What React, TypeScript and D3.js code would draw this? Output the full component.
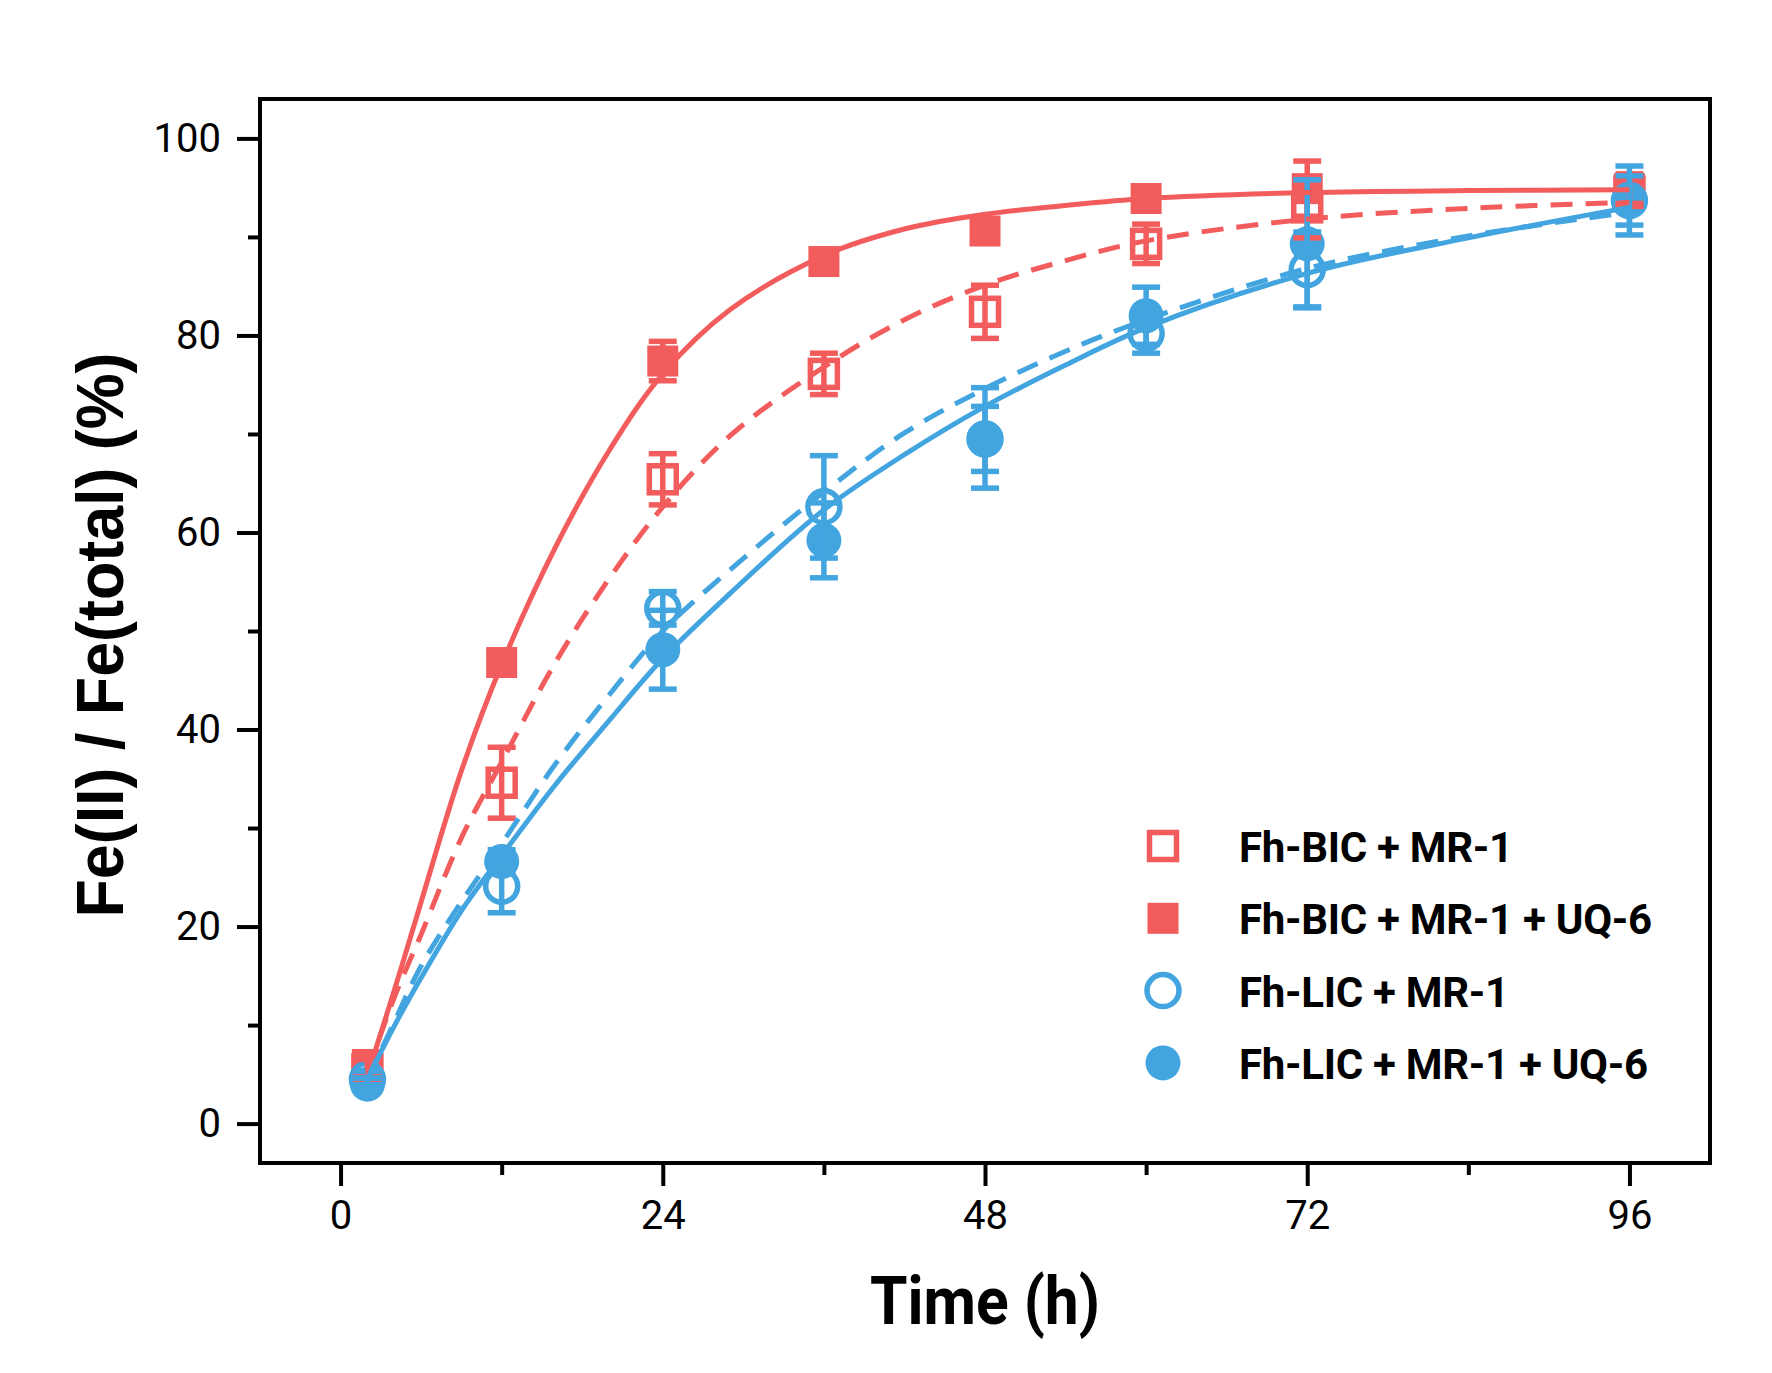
import React, { useEffect, useRef } from 'react';
import * as d3 from 'd3';

// measured points (mean ± sd)
const times = [2, 12, 24, 36, 48, 60, 72, 96];

const bicMr1 = [5.5, 34.6, 65.4, 76.1, 82.4, 89.3, 93.0, 94.6];
const bicMr1Err = [1.0, 3.6, 2.6, 2.1, 2.7, 2.0, 3.1, 1.5];

const bicMr1Uq6 = [6.0, 46.8, 77.4, 87.5, 90.6, 93.9, 94.9, 94.9];
const bicMr1Uq6Err = [0.8, 1.0, 2.0, 1.0, 1.2, 1.0, 2.8, 1.5];

const licMr1 = [4.5, 24.1, 52.3, 62.6, 69.5, 80.2, 86.7, 93.7];
const licMr1Err = [0.8, 2.7, 1.7, 5.2, 3.3, 2.0, 3.8, 3.5];

const licMr1Uq6 = [4.0, 26.6, 48.1, 59.2, 69.6, 82.0, 89.3, 93.7];
const licMr1Uq6Err = [0.6, 1.2, 4.0, 3.8, 5.1, 2.9, 6.5, 2.5];

// fitted curves
const fitTimes = [2, 4, 6, 9, 12, 16, 20, 24, 29, 36, 42, 48, 54, 60, 72, 84, 96];
const bicMr1Fit = [5.2, 12.8, 19.2, 29.0, 36.7, 46.8, 55.3, 62.6, 69.8, 76.8, 81.6, 85.1, 87.6, 89.6, 91.8, 92.9, 93.5];
const bicMr1Uq6Fit = [4.9, 13.5, 22.5, 35.8, 46.6, 58.5, 68.3, 76.1, 82.6, 88.1, 90.8, 92.3, 93.2, 93.9, 94.5, 94.7, 94.8];
const licMr1Fit = [4.5, 10.3, 16.0, 22.5, 28.4, 36.5, 43.5, 50.0, 56.2, 64.1, 70.1, 74.6, 78.4, 81.6, 86.8, 90.1, 92.5];
const licMr1Uq6Fit = [4.5, 9.9, 14.8, 21.6, 27.2, 34.4, 40.9, 47.2, 53.8, 62.3, 67.9, 72.8, 77.0, 80.8, 86.3, 89.9, 93.0];

const seriesNames = ['Fh-BIC + MR-1', 'Fh-BIC + MR-1 + UQ-6', 'Fh-LIC + MR-1', 'Fh-LIC + MR-1 + UQ-6'];

const xTicks = [0, 24, 48, 72, 96];
const xMinorTicks = [12, 36, 60, 84];
const yTicks = [0, 20, 40, 60, 80, 100];
const yMinorTicks = [10, 30, 50, 70, 90];

const RED = '#F25C5C';
const BLUE = '#43A5E0';

type Marker = 'squareOpen' | 'square' | 'circleOpen' | 'circle';

interface Series {
    name: string,
    values: number[],
    errors: number[],
    fit: number[],
    color: string,
    marker: Marker,
    dashed: boolean
}

const series: Series[] = [
    { name: seriesNames[0], values: bicMr1, errors: bicMr1Err, fit: bicMr1Fit, color: RED, marker: 'squareOpen', dashed: true },
    { name: seriesNames[1], values: bicMr1Uq6, errors: bicMr1Uq6Err, fit: bicMr1Uq6Fit, color: RED, marker: 'square', dashed: false },
    { name: seriesNames[2], values: licMr1, errors: licMr1Err, fit: licMr1Fit, color: BLUE, marker: 'circleOpen', dashed: true },
    { name: seriesNames[3], values: licMr1Uq6, errors: licMr1Uq6Err, fit: licMr1Uq6Fit, color: BLUE, marker: 'circle', dashed: false },
];

const width = 1772;
const height = 1373;
const left = 260;
const right = 1710;
const top = 99;
const bottom = 1163;

const drawMarker = (
    g: d3.Selection<SVGGElement, unknown, null, undefined>,
    marker: Marker, cx: number, cy: number, color: string
) => {
    if (marker === 'squareOpen') {
        g.append('rect').attr('x', cx - 13.5).attr('y', cy - 13.5).attr('width', 27).attr('height', 27)
            .attr('fill', 'white').attr('stroke', color).attr('stroke-width', 5.5);
    } else if (marker === 'square') {
        g.append('rect').attr('x', cx - 15.5).attr('y', cy - 15.5).attr('width', 31).attr('height', 31)
            .attr('fill', color);
    } else if (marker === 'circleOpen') {
        g.append('circle').attr('cx', cx).attr('cy', cy).attr('r', 16)
            .attr('fill', 'white').attr('stroke', color).attr('stroke-width', 5.5);
    } else {
        g.append('circle').attr('cx', cx).attr('cy', cy).attr('r', 17.5).attr('fill', color);
    }
};

const App: React.FC = () => {
    const svgRef = useRef<SVGSVGElement | null>(null);

    useEffect(() => {
        const svg = d3.select(svgRef.current);
        svg.selectAll('*').remove();

        const x = d3.scaleLinear().domain([-6, 102]).range([left, right]);
        const y = d3.scaleLinear().domain([-4, 104]).range([bottom, top]);

        // markers
        const markers = svg.append('g');
        series.forEach(s => {
            s.values.forEach((v, i) => drawMarker(markers, s.marker, x(times[i]), y(v), s.color));
        });

        // error bars
        const bars = svg.append('g').attr('stroke-width', 5.5).attr('fill', 'none');
        series.forEach(s => {
            s.values.forEach((v, i) => {
                const cx = x(times[i]);
                const y0 = y(v - s.errors[i]);
                const y1 = y(v + s.errors[i]);
                bars.append('line').attr('x1', cx).attr('x2', cx).attr('y1', y0).attr('y2', y1).attr('stroke', s.color);
                bars.append('line').attr('x1', cx - 14).attr('x2', cx + 14).attr('y1', y0).attr('y2', y0).attr('stroke', s.color);
                bars.append('line').attr('x1', cx - 14).attr('x2', cx + 14).attr('y1', y1).attr('y2', y1).attr('stroke', s.color);
            });
        });

        // fitted curves
        const line = d3.line<number>()
            .x((_, i) => x(fitTimes[i]))
            .y(d => y(d))
            .curve(d3.curveCatmullRom.alpha(0.5));

        series.forEach(s => {
            svg.append('path')
                .datum(s.fit)
                .attr('fill', 'none')
                .attr('stroke', s.color)
                .attr('stroke-width', 5)
                .attr('stroke-dasharray', s.dashed ? '22 13' : null)
                .attr('d', line);
        });

        // frame
        svg.append('rect')
            .attr('x', left).attr('y', top)
            .attr('width', right - left).attr('height', bottom - top)
            .attr('fill', 'none').attr('stroke', 'black').attr('stroke-width', 4);

        const styleAxis = (g: d3.Selection<SVGGElement, unknown, null, undefined>) => {
            g.select('.domain').remove();
            g.selectAll('.tick line').attr('stroke', 'black').attr('stroke-width', 4);
            g.selectAll('.tick text')
                .attr('fill', 'black')
                .style('font-family', 'Roboto')
                .style('font-size', '40px');
        };

        svg.append('g')
            .attr('transform', `translate(0, ${bottom})`)
            .call(d3.axisBottom(x).tickValues(xTicks).tickSize(23).tickPadding(15).tickFormat(d3.format('d')))
            .call(styleAxis);

        svg.append('g')
            .attr('transform', `translate(0, ${bottom})`)
            .call(d3.axisBottom(x).tickValues(xMinorTicks).tickSize(12).tickFormat(() => ''))
            .call(styleAxis);

        svg.append('g')
            .attr('transform', `translate(${left}, 0)`)
            .call(d3.axisLeft(y).tickValues(yTicks).tickSize(23).tickPadding(16).tickFormat(d3.format('d')))
            .call(styleAxis);

        svg.append('g')
            .attr('transform', `translate(${left}, 0)`)
            .call(d3.axisLeft(y).tickValues(yMinorTicks).tickSize(12).tickFormat(() => ''))
            .call(styleAxis);

        // axis titles
        svg.append('text')
            .attr('x', (left + right) / 2)
            .attr('y', 1324)
            .attr('text-anchor', 'middle')
            .attr('textLength', 230)
            .attr('lengthAdjust', 'spacingAndGlyphs')
            .style('font-family', 'Roboto')
            .style('font-weight', 700)
            .style('font-size', '66px')
            .text('Time (h)');

        svg.append('text')
            .attr('transform', `translate(123, ${(top + bottom) / 2 + 4}) rotate(-90)`)
            .attr('text-anchor', 'middle')
            .attr('textLength', 565)
            .attr('lengthAdjust', 'spacingAndGlyphs')
            .style('font-family', 'Liberation Sans')
            .style('font-weight', 700)
            .style('font-size', '66px')
            .text('Fe(II) / Fe(total) (%)');

        // legend
        const legend = svg.append('g');
        series.forEach((s, i) => {
            const ly = 846 + i * 72.3;
            drawMarker(legend, s.marker, 1163, ly, s.color);
            legend.append('text')
                .attr('x', 1239)
                .attr('y', ly + 16)
                .style('font-family', 'Roboto')
                .style('font-weight', 700)
                .style('font-size', '42px')
                .style('letter-spacing', '-0.3px')
                .text(s.name);
        });
    }, []);

    return (
        <svg
            ref={svgRef}
            viewBox={`0 0 ${width} ${height}`}
            width={width}
            height={height}
            style={{ position: 'absolute', left: 0, top: 0, background: 'white' }}
        />
    );
};

export default App;
